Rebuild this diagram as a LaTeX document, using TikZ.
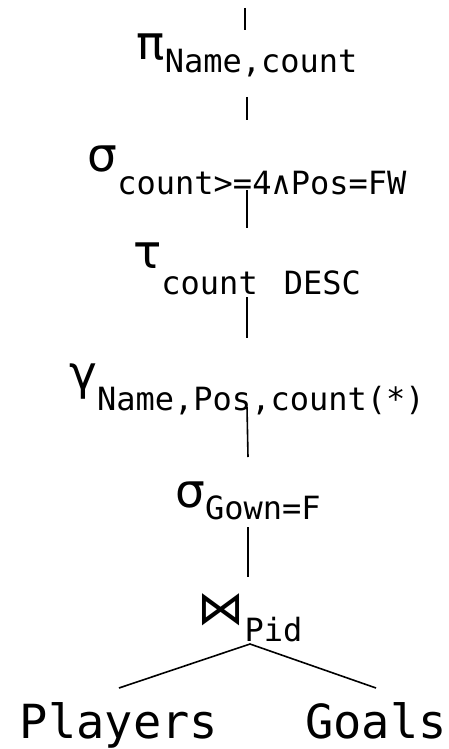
\documentclass[tikz,border=0pt]{standalone}
\usepackage{fontspec}
\setmainfont{DejaVu Sans}
\setmonofont{DejaVu Sans Mono}
\usetikzlibrary{positioning}
\tikzset{
  op/.style={anchor=base,inner sep=0pt,font=\fontsize{47}{47}\selectfont},
  rel/.style={anchor=base,inner sep=0pt,font=\fontsize{47}{47}\selectfont\ttfamily},
  edge/.style={line width=1.6pt,draw=black},
}
% subscript lowered by #1 pt, set in mono
\newcommand{\opsub}[2]{\raisebox{-#1pt}{\fontsize{32}{32}\selectfont\ttfamily #2}}

\begin{document}
\begin{tikzpicture}[x=1pt,y=-1pt]
  \useasboundingbox (0,0) rectangle (449,749);

  \node[op] (proj) at (247,60)  {π\opsub{13}{Name,count}};
  \node[op] (selc) at (247,171) {σ\opsub{23}{count>=4∧Pos=FW}};
  \node[op] (sort) at (247,268) {τ\opsub{26}{count\hspace{26pt}DESC}};
  \node[op] (grp)  at (247,389) {γ\opsub{21}{Name,Pos,count(*)}};
  \node[op] (selg) at (248,507) {σ\opsub{12}{Gown=F}};
  \node[op] (join) at (250,624) {⋈\opsub{17}{Pid}};
  \node[rel] (pl) at (119,738) {Players};
  \node[rel] (gl) at (376,738) {Goals};

  % plan edges
  \coordinate (root) at ([xshift=-2pt,yshift=52pt]proj.base);
  \draw[edge] (root) -- ([xshift=-2pt,yshift=30pt]proj.base);
  \draw[edge] ([yshift=-37pt]proj.base) -- ([yshift=51pt]selc.base);
  \draw[edge] ([yshift=-19pt]selc.base) -- ([yshift=40pt]sort.base);
  \draw[edge] ([yshift=-29pt]sort.base) -- ([yshift=51pt]grp.base);
  \draw[edge] ([yshift=-18pt]grp.base)  -- ([yshift=50pt]selg.base);
  \draw[edge] ([yshift=-20pt]selg.base) -- ([xshift=-2pt,yshift=47pt]join.base);
  \draw[edge] ([yshift=50pt]pl.base) -- ([yshift=-20pt]join.base)
              -- ([yshift=50pt]gl.base);
\end{tikzpicture}
\end{document}
